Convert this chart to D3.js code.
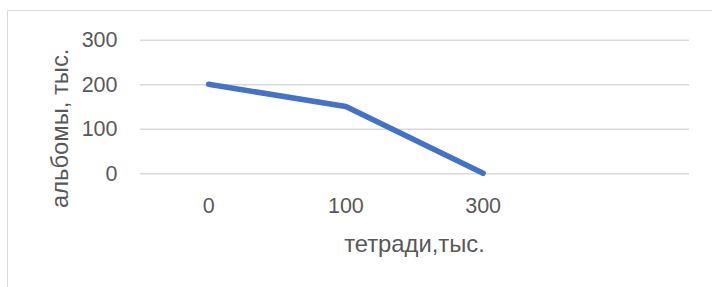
<!DOCTYPE html>
<html>
<head>
<meta charset="utf-8">
<style>
    body { margin: 0; background: #fff; }
    svg { display: block; }
    text { font-family: "Liberation Sans", Arial, sans-serif; fill: #595959; }
</style>
</head>
<body>
<svg width="712" height="287"></svg>
<script src="https://cdn.jsdelivr.net/npm/d3@7"></script>
<script>
    // data
    const categories = ["0", "100", "300", ""];
    const albums = [200, 150, 0, null];
    const yTicks = [0, 100, 200, 300];
    const xTitle = "тетради,тыс.";
    const yTitle = "альбомы, тыс.";

    const svg = d3.select("svg");
    const width = +svg.attr("width");
    const height = +svg.attr("height");

    const plot = { left: 140, right: 689, top: 39.7, bottom: 173.3 };
    const fontSize = 21.5;
    const titleSize = 23.8;

    // chart frame (only top and left edges are inside the picture)
    svg.append("path")
        .attr("d", `M7.5,${height} V10.5 H${width}`)
        .attr("fill", "none")
        .attr("stroke", "#d9d9d9")
        .attr("stroke-width", 1);

    const x = d3.scaleBand().domain(categories).range([plot.left, plot.right]).padding(0);
    const y = d3.scaleLinear().domain([0, 300]).range([plot.bottom, plot.top]);

    // gridlines
    svg.append("g")
        .attr("transform", `translate(${plot.left},0)`)
        .call(d3.axisLeft(y).tickValues(yTicks).tickSize(-(plot.right - plot.left)).tickFormat(""))
        .call(g => g.select(".domain").remove())
        .call(g => g.selectAll("line").attr("stroke", "#d9d9d9").attr("stroke-width", 1.4));

    // y labels
    svg.append("g")
        .attr("transform", `translate(${plot.left},0)`)
        .call(d3.axisLeft(y).tickValues(yTicks).tickSize(0).tickPadding(22.5))
        .call(g => g.select(".domain").remove())
        .call(g => g.selectAll("text")
            .attr("font-family", null)
            .attr("font-size", fontSize)
            .attr("fill", "#595959"));

    // x labels
    svg.append("g")
        .attr("transform", `translate(0,${plot.bottom})`)
        .call(d3.axisBottom(x).tickSize(0).tickPadding(24.5))
        .call(g => g.select(".domain").remove())
        .call(g => g.selectAll("text")
            .attr("font-family", null)
            .attr("font-size", fontSize)
            .attr("fill", "#595959"));

    // line
    const pts = categories.map((c, i) => ({ c, v: albums[i] })).filter(d => d.v !== null);
    const line = d3.line()
        .x(d => x(d.c) + x.bandwidth() / 2)
        .y(d => y(d.v));

    svg.append("path")
        .datum(pts)
        .attr("d", line)
        .attr("fill", "none")
        .attr("stroke", "#4472c4")
        .attr("stroke-width", 5.5)
        .attr("stroke-linecap", "round")
        .attr("stroke-linejoin", "round");

    // axis titles
    svg.append("text")
        .attr("x", (plot.left + plot.right) / 2)
        .attr("y", 251.5)
        .attr("text-anchor", "middle")
        .attr("font-size", titleSize)
        .text(xTitle);

    svg.append("text")
        .attr("transform", "translate(67.5,128.3) rotate(-90)")
        .attr("text-anchor", "middle")
        .attr("font-size", titleSize)
        .text(yTitle);
</script>
</body>
</html>
